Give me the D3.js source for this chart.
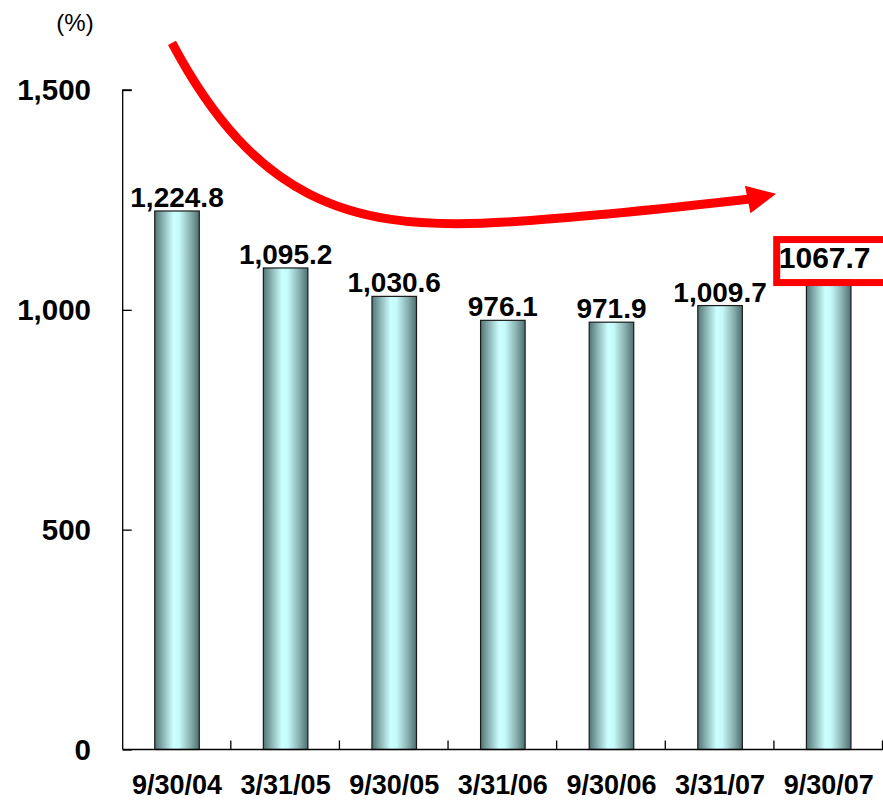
<!DOCTYPE html>
<html>
<head>
<meta charset="utf-8">
<script src="https://cdn.jsdelivr.net/npm/d3@7"></script>
<style>
  html, body { margin: 0; padding: 0; background: #fff; }
  svg { display: block; font-family: "Liberation Sans", Arial, sans-serif; }
</style>
</head>
<body>
<svg id="chart" width="883" height="801"></svg>
<script>
// Ratio by period end date (%)
const categories = ["9/30/04", "3/31/05", "9/30/05", "3/31/06", "9/30/06", "3/31/07", "9/30/07"];
const values = [1224.8, 1095.2, 1030.6, 976.1, 971.9, 1009.7, 1067.7];
const valueLabels = ["1,224.8", "1,095.2", "1,030.6", "976.1", "971.9", "1,009.7", "1067.7"];
const yTicks = [0, 500, 1000, 1500];
const yTickLabels = ["0", "500", "1,000", "1,500"];
const unitLabel = "(%)";

// Trend arrow as two cubic segments in data space: [category index offset, value]
const trendStart = [-0.046, 1607];
const trendSeg1 = [[0.718, 1250], [1.593, 1186], [2.808, 1197]];
const trendSeg2 = [[3.527, 1204], [4.632, 1234], [5.276, 1252]];
const trendTip = [5.516, 1264];

(function draw() {
  const svg = d3.select("#chart");
  const plotLeft = 122.7, plotRight = 883, plotTop = 90, plotBottom = 749.5;

  const x = d3.scaleBand().domain(categories).range([plotLeft, plotRight]).paddingInner(0.59).paddingOuter(0.295);
  const y = d3.scaleLinear().domain([0, 1500]).range([plotBottom, plotTop]);
  const step = x.step();
  const cx = i => x(categories[0]) + x.bandwidth() / 2 + i * step;
  const pt = ([i, v]) => [cx(i), y(v)];

  // Bar fill: dark edges, pale cyan highlight
  const defs = svg.append("defs");
  const grad = defs.append("linearGradient").attr("id", "barFill")
    .attr("x1", "0%").attr("x2", "100%").attr("y1", "0%").attr("y2", "0%");
  [[0, "#517575"], [0.2, "#8fb8b8"], [0.42, "#ccffff"], [0.55, "#c6fafa"], [0.8, "#8ab0b0"], [1, "#4d7070"]]
    .forEach(([o, c]) => grad.append("stop").attr("offset", o).attr("stop-color", c));

  // Bars
  svg.append("g").selectAll("rect").data(values).join("rect")
    .attr("x", (d, i) => x(categories[i]))
    .attr("y", d => y(d))
    .attr("width", x.bandwidth())
    .attr("height", d => y(0) - y(d))
    .attr("fill", "url(#barFill)")
    .attr("stroke", "#1a1a1a")
    .attr("stroke-width", 1.2);

  // Y axis
  const yAxis = svg.append("g").attr("transform", `translate(${plotLeft},0)`)
    .call(d3.axisRight(y).tickValues(yTicks).tickSize(9).tickFormat(""));
  yAxis.select(".domain").attr("d", `M9,${plotTop}H0V${plotBottom}`).attr("stroke", "#000").attr("stroke-width", 1.3);
  yAxis.selectAll(".tick line").attr("stroke", "#000").attr("stroke-width", 1.3);

  svg.append("g").selectAll("text").data(yTicks).join("text")
    .attr("x", 91).attr("y", d => y(d) + 10)
    .attr("text-anchor", "end")
    .attr("font-size", 29.5).attr("font-weight", "bold")
    .text((d, i) => yTickLabels[i]);

  svg.append("text").attr("x", 75).attr("y", 31).attr("text-anchor", "middle")
    .attr("font-size", 24).text(unitLabel);

  // X axis with ticks between categories
  const xAxis = svg.append("g").attr("transform", `translate(0,${plotBottom})`);
  xAxis.append("line").attr("x1", plotLeft).attr("x2", plotRight).attr("stroke", "#000").attr("stroke-width", 1.3);
  xAxis.selectAll("line.sep").data(categories).join("line")
    .attr("class", "sep")
    .attr("x1", (d, i) => plotLeft + (i + 1) * step - 0.5)
    .attr("x2", (d, i) => plotLeft + (i + 1) * step - 0.5)
    .attr("y1", 0).attr("y2", -9)
    .attr("stroke", "#000").attr("stroke-width", 1.3);

  svg.append("g").selectAll("text").data(categories).join("text")
    .attr("x", d => x(d) + x.bandwidth() / 2)
    .attr("y", 794)
    .attr("text-anchor", "middle")
    .attr("font-size", 27).attr("font-weight", "bold")
    .text(d => d);

  // Value labels
  const last = values.length - 1;
  svg.append("g").selectAll("text").data(values).join("text")
    .attr("x", (d, i) => x(categories[i]) + x.bandwidth() / 2 + (i === last ? -4 : 0))
    .attr("y", (d, i) => y(d) - (i === last ? 12 : 4))
    .attr("text-anchor", "middle")
    .attr("font-size", (d, i) => i === last ? 30 : 28)
    .attr("font-weight", "bold")
    .text((d, i) => valueLabels[i]);

  // Highlight box around the latest value
  const lastX = x(categories[last]) + x.bandwidth() / 2;
  svg.append("rect")
    .attr("x", lastX - 52).attr("y", y(values[last]) - 40.5)
    .attr("width", 130).attr("height", 43)
    .attr("fill", "none").attr("stroke", "#ff0000").attr("stroke-width", 7);

  // Trend arrow
  const path = d3.path();
  const s = pt(trendStart);
  path.moveTo(s[0], s[1]);
  [trendSeg1, trendSeg2].forEach(seg => {
    const [a, b, c] = seg.map(pt);
    path.bezierCurveTo(a[0], a[1], b[0], b[1], c[0], c[1]);
  });
  svg.append("path")
    .attr("d", path.toString())
    .attr("fill", "none").attr("stroke", "#ff0000").attr("stroke-width", 9);

  const tip = pt(trendTip);
  const base = pt(trendSeg2[2]);
  const ang = Math.atan2(tip[1] - base[1], tip[0] - base[0]);
  const hl = 29, hw = 14;
  const bx = tip[0] - hl * Math.cos(ang), by = tip[1] - hl * Math.sin(ang);
  svg.append("path")
    .attr("d", `M${tip[0]},${tip[1]}L${bx - hw * Math.sin(ang)},${by + hw * Math.cos(ang)}L${bx + hw * Math.sin(ang)},${by - hw * Math.cos(ang)}Z`)
    .attr("fill", "#ff0000");
})();
</script>
</body>
</html>
